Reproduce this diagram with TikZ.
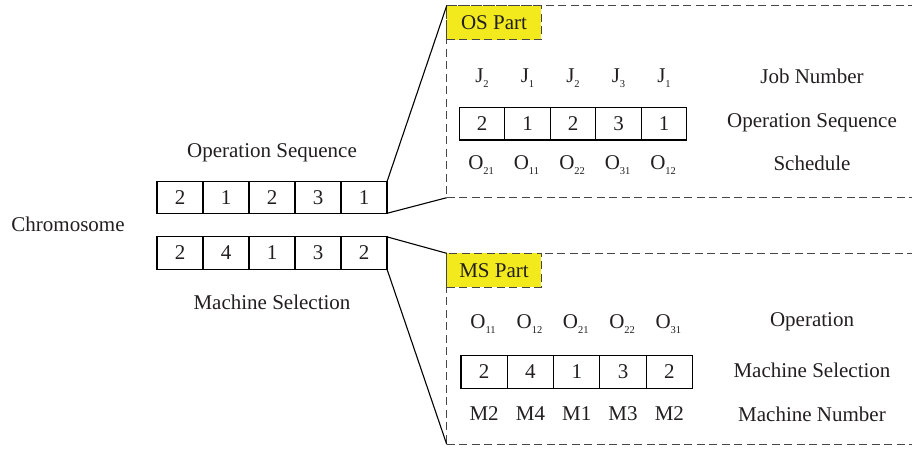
\documentclass[tikz,border=0pt]{standalone}
\usepackage{fontspec}
\setmainfont{Liberation Serif}
\definecolor{tagyellow}{RGB}{242,234,28}
\definecolor{dashgray}{RGB}{70,70,70}
\definecolor{txt}{RGB}{35,31,32}
\newcommand{\lowsub}[1]{\raisebox{-5pt}{\fontsize{10.5}{11}\selectfont #1}}
\begin{document}
\begin{tikzpicture}[x=1pt,y=-1pt,
  font=\fontsize{21}{25}\selectfont, text=txt,
  cell/.style={draw, line width=1.1pt, minimum width=46pt, minimum height=32pt, inner sep=0pt, outer sep=0pt},
  dbox/.style={draw=dashgray, dash pattern=on 8pt off 4.5pt, line width=1.2pt, inner sep=0pt, outer sep=0pt, anchor=north west},
  tag/.style={dbox, fill=tagyellow, minimum width=94.6pt, minimum height=34pt},
  lbl/.style={inner sep=0pt},
  conn/.style={line width=1.1pt}]
\useasboundingbox (0,0) rectangle (912,449);

% dashed part boxes
\node[dbox, minimum width=470pt, minimum height=192pt] (os) at (446.7,5.7) {};
\node[dbox, minimum width=470pt, minimum height=191pt] (ms) at (446.7,253.3) {};
\node[tag] (ostag) at (446.7,5.7) {OS Part};
\node[tag] (mstag) at (446.7,253.3) {MS Part};

% chromosome
\node[lbl] (chrom) at (68,224) {Chromosome};
\node[lbl] (oslbl) at (272,153) {Operation Sequence};
\node[lbl] (mslbl) at (272,302) {Machine Selection};

\foreach \v [count=\i] in {2,1,2,3,1}
  \node[cell, minimum height=31.6pt] (a\i) at ({157+46*(\i-0.5)},197.5) {\v};
\foreach \v [count=\i] in {2,4,1,3,2}
  \node[cell, minimum height=32.3pt] (b\i) at ({157+46*(\i-0.5)},253) {\v};

% connectors
\draw[conn] (a5.north east) -- (os.north west);
\draw[conn] (a5.south east) -- (os.south west);
\draw[conn] (b5.north east) -- (ms.north west);
\draw[conn] (b5.south east) -- (ms.south west);

% OS part contents
\foreach \v [count=\i] in {2,1,2,3,1}
  \node[cell, minimum width=45.5pt, minimum height=32.7pt] (c\i) at ({459.3+45.5*(\i-0.5)},123.7) {\v};
\foreach \j [count=\i] in {2,1,2,3,1}
  \node[lbl, anchor=base west] (j\i) at ({459.3+45.5*(\i-0.5)-7},83) {J\lowsub{\j}};
\foreach \o [count=\i] in {21,11,22,31,12}
  \node[lbl, anchor=base west] (s\i) at ({459.3+45.5*(\i-0.5)-14},169.5) {O\lowsub{\o}};
\node[lbl] (jn) at (812,76) {Job Number};
\node[lbl] (osq) at (812,123) {Operation Sequence};
\node[lbl] (sch) at (812,163) {Schedule};

% MS part contents
\foreach \v [count=\i] in {2,4,1,3,2}
  \node[cell, minimum width=46.3pt, minimum height=32.3pt] (d\i) at ({461+46.3*(\i-0.5)},372) {\v};
\foreach \o [count=\i] in {11,12,21,22,31}
  \node[lbl, anchor=base west] (p\i) at ({461+46.3*(\i-0.5)-14},328.5) {O\lowsub{\o}};
\foreach \m [count=\i] in {2,4,1,3,2}
  \node[lbl] (m\i) at ({461+46.3*(\i-0.5)},414) {M\m};
\node[lbl] (opn) at (812,322) {Operation};
\node[lbl] (msel) at (812,370) {Machine Selection};
\node[lbl] (mnum) at (812,414) {Machine Number};
\end{tikzpicture}
\end{document}
